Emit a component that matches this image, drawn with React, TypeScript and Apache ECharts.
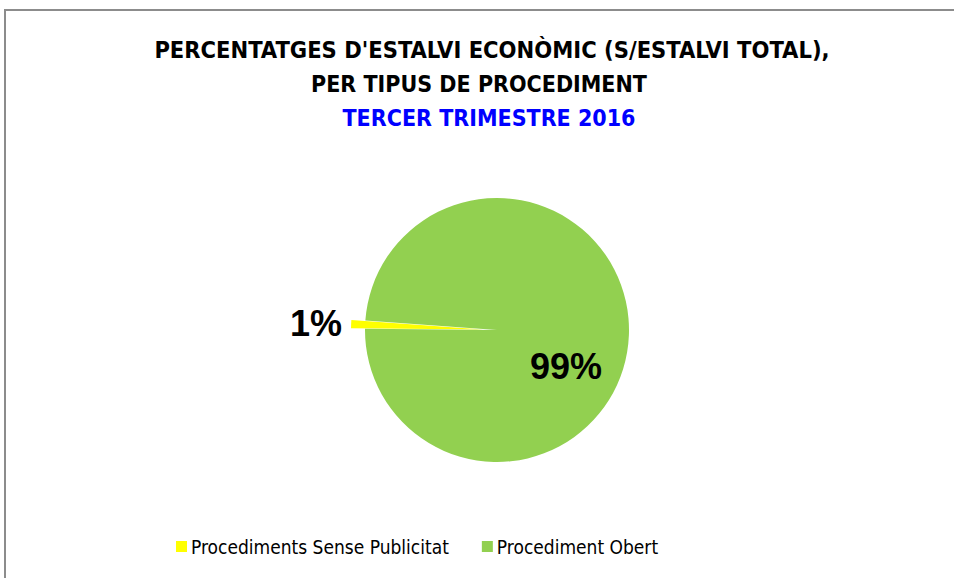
import React, { useEffect, useRef } from "react";
import * as echarts from "echarts";

const titleLines = [
  "PERCENTATGES D'ESTALVI ECONÒMIC (S/ESTALVI TOTAL),",
  "PER TIPUS DE PROCEDIMENT",
];
const subtitle = "TERCER TRIMESTRE 2016";
const categories = ["Procediments Sense Publicitat", "Procediment Obert"];
const values = [1, 99];
const colors = ["#FFFF00", "#92D050"];

const FONT = "'Liberation Sans Narrow', 'DejaVu Sans Condensed', 'Liberation Sans', sans-serif";

export default function App() {
  const ref = useRef<HTMLDivElement>(null);
  useEffect(() => {
    if (!ref.current) return;
    const chart = echarts.init(ref.current, undefined, { renderer: "svg" });
    chart.setOption({
      animation: false,
      backgroundColor: "#ffffff",
      graphic: [
        {
          type: "rect",
          shape: { x: 5, y: 10, width: 1000, height: 600 },
          style: { fill: "none", stroke: "#8c8c8c", lineWidth: 2 },
          silent: true,
          z: -1,
        },
        {
          type: "text",
          x: 492,
          y: 50,
          style: {
            text: titleLines[0],
            fill: "#000",
            font: `bold 23.5px ${FONT}`,
            textAlign: "center",
            textVerticalAlign: "middle",
          },
        },
        {
          type: "text",
          x: 479,
          y: 84,
          style: {
            text: titleLines[1],
            fill: "#000",
            font: `bold 23px ${FONT}`,
            textAlign: "center",
            textVerticalAlign: "middle",
          },
        },
        {
          type: "text",
          x: 489,
          y: 118,
          style: {
            text: subtitle,
            fill: "#0000FF",
            font: `bold 23px ${FONT}`,
            textAlign: "center",
            textVerticalAlign: "middle",
          },
        },
      ],
      legend: {
        left: 171,
        top: 532,
        itemWidth: 11,
        itemHeight: 11,
        itemGap: 33,
        icon: "rect",
        data: categories,
        textStyle: { fontFamily: FONT, fontSize: 19, color: "#000", padding: [0, 0, 0, -1] },
        selectedMode: false,
      },
      series: [
        {
          type: "pie",
          center: [497, 330],
          radius: 132,
          startAngle: 179.5,
          clockwise: true,
          selectedMode: "single",
          selectedOffset: 14,
          emphasis: { disabled: true },
          avoidLabelOverlap: false,
          data: categories.map((name, i) => ({
            name,
            value: values[i],
            selected: i === 0,
            itemStyle: { color: colors[i] },
            label:
              i === 0
                ? { position: "outside", formatter: "{d}%" }
                : { position: "inside", formatter: "\n\n{d}%", lineHeight: 34 },
            labelLine: { show: false, length: 4, length2: 0 },
          })),
          label: {
            fontFamily: "'Liberation Sans', sans-serif",
            fontWeight: "bold",
            fontSize: 36,
            color: "#000",
          },
          labelLine: { show: false, length: 4, length2: 0 },
        },
      ],
    });
    return () => chart.dispose();
  }, []);
  return (
    <div
      ref={ref}
      style={{ position: "fixed", left: 0, top: 0, width: 954, height: 578 }}
    />
  );
}
